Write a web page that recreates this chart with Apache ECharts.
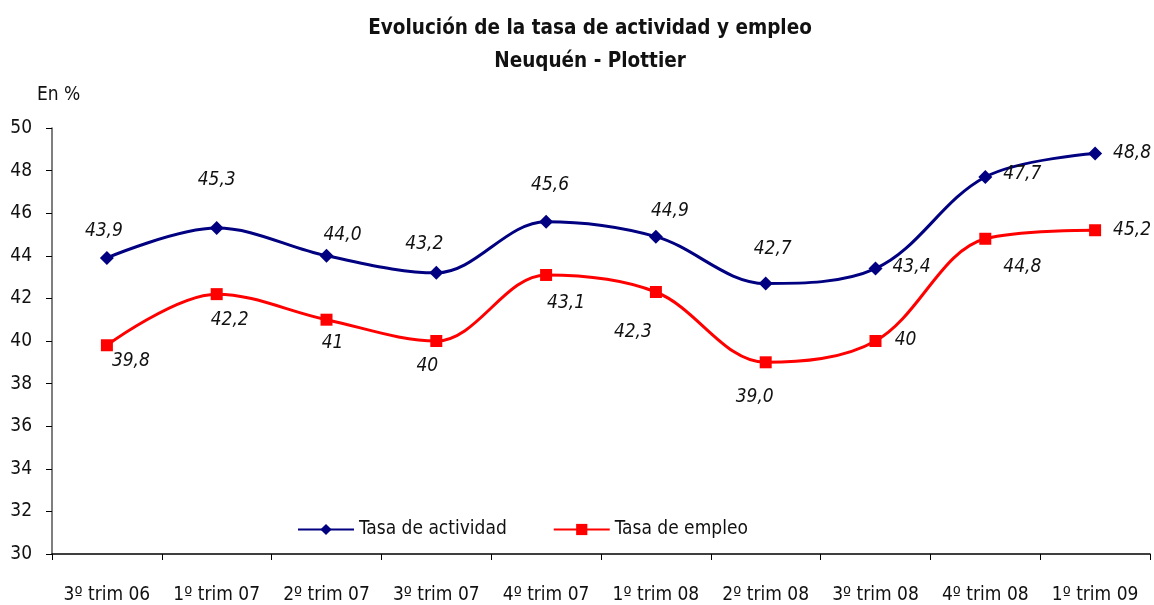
<!DOCTYPE html>
<html>
<head>
<meta charset="utf-8">
<script src="https://cdn.jsdelivr.net/npm/echarts@6/dist/echarts.min.js"></script>
<style>
  html, body { margin: 0; padding: 0; background: #fff; }
  #chart { width: 1154px; height: 605px; }
</style>
</head>
<body>
<div id="chart"></div>
<script>
// data
const categories = ["3º trim 06", "1º trim 07", "2º trim 07", "3º trim 07", "4º trim 07",
  "1º trim 08", "2º trim 08", "3º trim 08", "4º trim 08", "1º trim 09"]
const actividad = [43.9, 45.3, 44.0, 43.2, 45.6, 44.9, 42.7, 43.4, 47.7, 48.8]
const empleo = [39.8, 42.2, 41, 40, 43.1, 42.3, 39.0, 40, 44.8, 45.2]
const actividadText = ["43,9", "45,3", "44,0", "43,2", "45,6", "44,9", "42,7", "43,4", "47,7", "48,8"]
const empleoText = ["39,8", "42,2", "41", "40", "43,1", "42,3", "39,0", "40", "44,8", "45,2"]

// where each value label sits relative to its point (layout only)
const actOffsets = [[-3, -27], [0, -48], [16, -21], [-12, -29], [4, -37],
  [14, -26], [7, -34], [36, -2], [37, -3], [37, 0]]
const empOffsets = [[24, 16], [13, 26], [6, 23], [-9, 25], [20, 28],
  [-23, 40], [-11, 35], [30, -1], [37, 28], [37, 0]]

const FONT = "'Liberation Sans Narrow', 'Arial Narrow', 'DejaVu Sans Condensed', sans-serif"

const chart = echarts.init(document.getElementById("chart"))

function withLabels(values, texts, offsets) {
  return values.map(function (v, i) {
    return {
      value: v,
      label: {
        show: true,
        position: "inside",
        offset: offsets[i],
        formatter: texts[i],
      },
    }
  })
}

const labelStyle = {
  fontFamily: FONT,
  fontStyle: "italic",
  fontSize: 19,
  color: "#111",
  align: "center",
  verticalAlign: "middle",
}

const option = {
  animation: false,
  backgroundColor: "#fff",
  textStyle: { fontFamily: FONT },
  title: {
    text: "Evolución de la tasa de actividad y empleo\nNeuquén - Plottier",
    left: 585,
    textAlign: "center",
    top: 7,
    textStyle: {
      fontFamily: FONT,
      fontWeight: "bold",
      fontSize: 20.5,
      lineHeight: 33,
      color: "#111",
    },
  },
  graphic: [
    {
      type: "text",
      left: 37,
      top: 86,
      style: { text: "En %", font: "19px " + FONT, fill: "#111" },
    },
  ],
  legend: {
    left: 292,
    top: 515,
    itemWidth: 56,
    itemHeight: 14,
    itemGap: 46,
    textStyle: { fontFamily: FONT, fontSize: 19, color: "#111" },
    data: ["Tasa de actividad", "Tasa de empleo"],
  },
  grid: { left: 52, right: 4, top: 128, bottom: 47 },
  xAxis: {
    type: "category",
    data: categories,
    boundaryGap: true,
    axisLine: { lineStyle: { color: "#000", width: 1.5 } },
    axisTick: { show: true, length: 6, lineStyle: { color: "#000" } },
    axisLabel: { fontFamily: FONT, fontSize: 19, color: "#111", margin: 32, interval: 0 },
    splitLine: { show: false },
  },
  yAxis: {
    type: "value",
    min: 30,
    max: 50,
    interval: 2,
    axisLine: { show: true, lineStyle: { color: "#555", width: 1.5 } },
    axisTick: { show: true, length: 6, lineStyle: { color: "#000" } },
    axisLabel: { fontFamily: FONT, fontSize: 19, color: "#111", margin: 20 },
    splitLine: { show: false },
  },
  series: [
    {
      name: "Tasa de actividad",
      type: "line",
      smooth: 0.35,
      symbol: "diamond",
      symbolSize: 14,
      itemStyle: { color: "#000080" },
      lineStyle: { color: "#000080", width: 3 },
      label: labelStyle,
      data: withLabels(actividad, actividadText, actOffsets),
    },
    {
      name: "Tasa de empleo",
      type: "line",
      smooth: 0.35,
      symbol: "rect",
      symbolSize: 12,
      itemStyle: { color: "#ff0000" },
      lineStyle: { color: "#ff0000", width: 3 },
      label: labelStyle,
      data: withLabels(empleo, empleoText, empOffsets),
    },
  ],
}

option && chart.setOption(option)
</script>
</body>
</html>
